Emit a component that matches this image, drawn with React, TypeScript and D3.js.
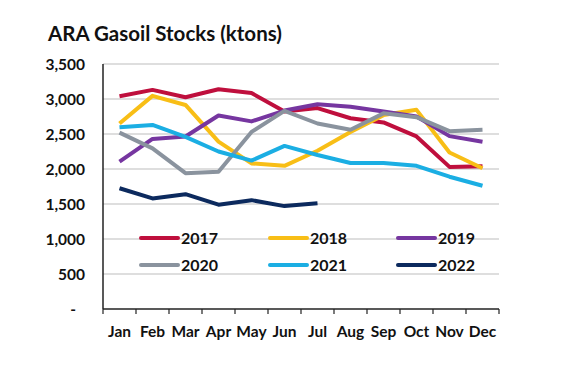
import React from "react";
import * as d3 from "d3";

const months = ["Jan","Feb","Mar","Apr","May","Jun","Jul","Aug","Sep","Oct","Nov","Dec"];
const yTicks = [0, 500, 1000, 1500, 2000, 2500, 3000, 3500];
const seriesNames = ["2017","2018","2019","2020","2021","2022"];
const s2017 = [3040, 3130, 3025, 3140, 3085, 2820, 2870, 2725, 2665, 2465, 2030, 2040];
const s2018 = [2650, 3045, 2915, 2390, 2080, 2045, 2260, 2530, 2770, 2845, 2235, 2010];
const s2019 = [2105, 2430, 2465, 2765, 2680, 2835, 2925, 2890, 2820, 2750, 2470, 2390];
const s2020 = [2520, 2295, 1940, 1960, 2530, 2830, 2650, 2560, 2795, 2740, 2540, 2560];
const s2021 = [2595, 2630, 2460, 2250, 2120, 2330, 2200, 2085, 2085, 2045, 1890, 1760];
const s2022 = [1725, 1580, 1640, 1490, 1555, 1470, 1510];
const colors = ["#BF0F3D", "#F8BE16", "#7636A0", "#8A939E", "#1BAEE3", "#0C2A5E"];

export default function App() {
  const data = [s2017, s2018, s2019, s2020, s2021, s2022];
  const x = d3.scaleBand<string>().domain(months).range([103, 499]);
  const y = d3.scaleLinear().domain([0, 3500]).range([309, 64]);
  const line = d3.line<number>()
    .x((_, i) => (x(months[i]) as number) + x.bandwidth() / 2)
    .y((d) => y(d));
  const font = "Lato, 'Open Sans', sans-serif";
  const tickXs = months.map((m) => x(m) as number).concat([499]);
  const legendCols = [141, 270, 398];
  const legendRows = [238, 265];
  return (
    <svg width={572} height={379} style={{ position: "absolute", left: 0, top: 0, background: "#fff" }} fontFamily={font}>
      <text x={48} y={41} fontSize={20.5} fontWeight={700} fill="#111">ARA Gasoil Stocks (ktons)</text>
      {yTicks.map((t) => (
        <g key={t}>
          {t > 0 && <line x1={103} x2={499} y1={y(t)} y2={y(t)} stroke="#BDBDBD" strokeWidth={1} />}
          <text x={t === 0 ? 76 : 85} y={y(t) + 5.5} textAnchor="end" fontSize={15.5} fontWeight={700} fill="#111">
            {t === 0 ? "-" : d3.format(",")(t)}
          </text>
        </g>
      ))}
      {colors.map((c, i) => {
        const cx = legendCols[i % 3];
        const cy = legendRows[Math.floor(i / 3)];
        return (
          <g key={"lg" + i}>
            <line x1={cx} x2={cx + 37} y1={cy} y2={cy} stroke={c} strokeWidth={4} strokeLinecap="round" />
            <text x={cx + 40} y={cy + 6} fontSize={16} fontWeight={700} fill="#111">{seriesNames[i]}</text>
          </g>
        );
      })}
      {data.map((s, i) => (
        <path key={"s" + i} d={line(s) || ""} fill="none" stroke={colors[i]} strokeWidth={4} strokeLinejoin="round" />
      ))}
      <line x1={103} x2={103} y1={64} y2={309} stroke="#222" strokeWidth={1.5} />
      <line x1={103} x2={499} y1={309} y2={309} stroke="#222" strokeWidth={1.5} />
      {tickXs.map((tx, i) => (
        <line key={"t" + i} x1={tx} x2={tx} y1={309} y2={314} stroke="#222" strokeWidth={1.2} />
      ))}
      {months.map((m) => (
        <text key={m} x={(x(m) as number) + x.bandwidth() / 2} y={337} textAnchor="middle" fontSize={15.5} fontWeight={700} fill="#111">{m}</text>
      ))}
    </svg>
  );
}
